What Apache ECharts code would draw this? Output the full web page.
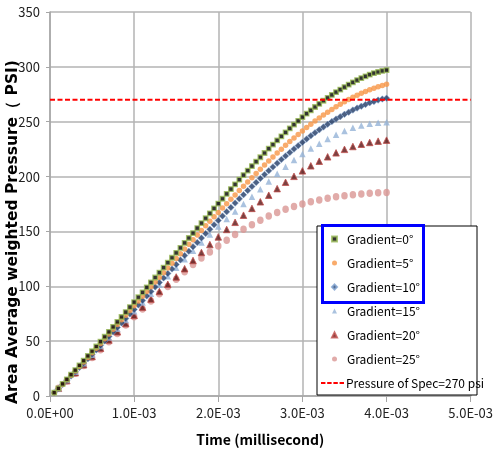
<!DOCTYPE html>
<html>
<head>
<meta charset="utf-8">
<script src="https://cdn.jsdelivr.net/npm/echarts@6/dist/echarts.min.js"></script>
<style>
html,body{margin:0;padding:0;background:#fff;}
#chart{width:496px;height:457px;}
</style>
</head>
<body>
<div id="chart"></div>
<script>
// ---- DATA ----
// time in milliseconds (axis labels shown in seconds, E-03 notation)
const timeFine = [0.05,0.10,0.15,0.20,0.25,0.30,0.35,0.40,0.45,0.50,0.55,0.60,0.65,0.70,0.75,0.80,0.85,0.90,0.95,1.00,
  1.05,1.10,1.15,1.20,1.25,1.30,1.35,1.40,1.45,1.50,1.55,1.60,1.65,1.70,1.75,1.80,1.85,1.90,1.95,2.00,
  2.05,2.10,2.15,2.20,2.25,2.30,2.35,2.40,2.45,2.50,2.55,2.60,2.65,2.70,2.75,2.80,2.85,2.90,2.95,3.00,
  3.05,3.10,3.15,3.20,3.25,3.30,3.35,3.40,3.45,3.50,3.55,3.60,3.65,3.70,3.75,3.80,3.85,3.90,3.95,4.00];
const timeCoarse = [0.1,0.2,0.3,0.4,0.5,0.6,0.7,0.8,0.9,1.0,1.1,1.2,1.3,1.4,1.5,1.6,1.7,1.8,1.9,2.0,
  2.1,2.2,2.3,2.4,2.5,2.6,2.7,2.8,2.9,3.0,3.1,3.2,3.3,3.4,3.5,3.6,3.7,3.8,3.9,4.0];

const grad0 = [3,7,11,15.2,19.4,23.6,27.9,32.2,36.5,40.8,45.1,49.5,54,58.5,63,67.5,72,76.5,81,85.5,
  90,94.5,99,103.5,108,112.5,117,121.5,126,130.5,135,139.5,144,148.5,153,157.5,162,166.5,171,175.4,
  179.8,184.2,188.6,192.9,197.2,201.4,205.5,209.6,213.6,217.6,221.5,225.4,229.2,233,236.7,240.3,243.9,247.4,250.8,254.1,
  257.3,260.4,263.4,266.3,269.1,271.8,274.4,276.9,279.3,281.6,283.8,285.9,287.9,289.7,291.4,292.9,294.2,295.3,296.3,297.1];
const grad5 = [3,6.8,10.8,14.8,18.8,22.8,26.9,31,35.2,39.4,43.6,47.9,52.2,56.5,60.8,65.1,69.4,73.7,78,82.3,
  86.6,90.9,95.2,99.5,103.8,108.1,112.4,116.7,121,125.3,129.6,133.9,138.2,142.5,146.7,150.9,155.1,159.2,163.3,167.3,
  171.3,175.3,179.3,183.3,187.3,191.2,195.1,199,202.9,206.7,210.5,214.2,217.9,221.5,225,228.5,231.9,235.2,238.4,241.6,
  244.7,247.7,250.6,253.4,256.1,258.7,261.2,263.6,265.9,268.1,270.2,272.2,274.1,275.9,277.6,279.1,280.5,281.8,283,284.1];
const grad10 = [3,6.7,10.5,14.3,18.2,22.1,26,30,34,38,42,46.1,50.2,54.3,58.4,62.5,66.6,70.7,74.8,78.9,
  83,87.1,91.2,95.3,99.4,103.5,107.6,111.7,115.8,119.9,124,128,132,136,140,144,148,152,156,160,
  164,168,171.9,175.8,179.7,183.5,187.3,191,194.7,198.3,201.9,205.4,208.8,212.2,215.5,218.8,222,225.1,228.2,231.2,
  234.2,237.1,239.9,242.6,245.2,247.7,250.1,252.4,254.6,256.7,258.7,260.6,262.4,264.1,265.7,267.2,268.5,269.7,270.7,271.5];
const grad15 = [7,14.5,22,29.8,37.6,45.5,53.4,61.3,69.3,77.3,85.3,93.3,101.3,109.2,117,124.7,132.3,139.8,147.2,154.4,
  161.4,168.2,174.9,181.5,188.5,195.5,202.5,209,215,220.5,225.5,230,234.3,238.2,241.6,244.4,246.6,248.1,249,249.5];
const grad20 = [7,14,21.2,28.5,36,43.5,51,58.5,66,73.5,81,88.3,95.3,101.8,108.5,116,123.5,130.8,138,145,
  151.8,158.3,164.8,171,177,183,189,194.8,200.2,205.2,209.8,214,218,221.6,224.8,227.4,229.5,231.1,232.3,233.2];
const grad25 = [7,13.7,20.7,27.8,35,42.2,49.5,57,64.6,72.2,79.3,86.5,93.2,99.7,106.5,113.3,119.8,125.8,131.3,136.8,
  142,147.3,152,156.2,160.2,164,167.3,170.3,172.8,175,177,178.7,180.2,181.5,182.6,183.5,184.2,184.8,185.2,185.4];

const specValue = 270;
const specRange = [0, 5];

const seriesNames = ['Gradient=0°','Gradient=5°','Gradient=10°','Gradient=15°','Gradient=20°','Gradient=25°'];
const specName = 'Pressure of Spec=270 psi';

const xTickValues = [0, 1, 2, 3, 4, 5];
const xTickLabels = ['0.0E+00','1.0E-03','2.0E-03','3.0E-03','4.0E-03','5.0E-03'];
const yTickLabels = ['0','50','100','150','200','250','300','350'];

const xTitle = 'Time (millisecond)';
const yTitle = 'Area Average weighted Pressure\uFF08 PSI)';

// ---- CHART ----
const pair = (t, v) => t.map((x, i) => [x, v[i]]);
const FONT = "'Noto Sans CJK KR','Liberation Sans',sans-serif";

const chart = echarts.init(document.getElementById('chart'), null, {renderer: 'canvas'});

const styles = [
  {symbol: 'rect', size: 4.5, itemStyle: {color: '#000000', borderColor: '#9bbb59', borderWidth: 1.3}},
  {symbol: 'circle', size: 5.5, itemStyle: {color: '#f79646'}},
  {symbol: 'diamond', size: 6.5, itemStyle: {color: '#1f3864', borderColor: '#7fa3d0', borderWidth: 0.6}},
  {symbol: 'triangle', size: 6.5, itemStyle: {color: '#95b3d7'}},
  {symbol: 'triangle', size: 6.5, itemStyle: {color: '#5a1212', borderColor: '#c0504d', borderWidth: 1}},
  {symbol: 'circle', size: [6.5, 7.5], itemStyle: {color: '#d99694'}}
];
const datasets = [pair(timeFine, grad0), pair(timeFine, grad5), pair(timeFine, grad10),
                  pair(timeCoarse, grad15), pair(timeCoarse, grad20), pair(timeCoarse, grad25)];

const series = seriesNames.map((n, i) => ({
  name: n, type: 'scatter', data: datasets[i], symbol: styles[i].symbol,
  symbolSize: styles[i].size, itemStyle: styles[i].itemStyle, z: 2 + (5 - i) * 0.1,
  emphasis: {disabled: true}
}));
series.push({
  name: specName, type: 'line', data: specRange.map(x => [x, specValue]),
  symbol: 'none', lineStyle: {color: '#ff0000', width: 2, type: [5, 2.5]},
  itemStyle: {color: '#ff0000'}, z: 3
});

const option = {
  animation: false,
  backgroundColor: '#ffffff',
  grid: {left: 50, right: 19, top: 12, bottom: 61},
  xAxis: {
    type: 'value', min: 0, max: 5, interval: 1,
    axisLine: {lineStyle: {color: '#a6a6a6', width: 1.5}},
    axisTick: {show: true, length: 6, lineStyle: {color: '#a6a6a6'}},
    splitLine: {show: true, lineStyle: {color: '#b3b3b3', width: 1.5}},
    axisLabel: {margin: 11, fontFamily: FONT, fontSize: 13, color: '#222',
      formatter: v => xTickLabels[xTickValues.indexOf(Math.round(v))] || ''},
    name: xTitle, nameLocation: 'middle', nameGap: 37,
    nameTextStyle: {fontFamily: FONT, fontWeight: 'bold', fontSize: 14, color: '#000'}
  },
  yAxis: {
    type: 'value', min: 0, max: 350, interval: 50,
    axisLine: {show: true, lineStyle: {color: '#a6a6a6', width: 1.5}},
    axisTick: {show: true, length: 4, lineStyle: {color: '#a6a6a6'}},
    splitLine: {show: true, lineStyle: {color: '#b3b3b3', width: 1.5}},
    axisLabel: {margin: 10, fontFamily: FONT, fontSize: 13, color: '#222',
      formatter: v => yTickLabels[Math.round(v / 50)]}
  },
  legend: [
    {
      data: seriesNames, orient: 'vertical', left: 331, top: 231, padding: 0,
      itemWidth: 5, itemHeight: 5, itemGap: 8, z: 10,
      selectedMode: false,
      textStyle: {fontFamily: FONT, fontSize: 12, lineHeight: 16, color: '#000', padding: [0, 0, 0, 5]}
    },
    {
      data: [{name: specName, icon: 'path://M0,0H5V2H0Z M7,0H12V2H7Z M14,0H19V2H14Z M21,0H26V2H21Z'}],
      orient: 'vertical', left: 321, top: 375, padding: 0,
      itemWidth: 23, itemHeight: 2, z: 10, selectedMode: false,
      textStyle: {fontFamily: FONT, fontSize: 12, lineHeight: 16, color: '#000', padding: [0, 0, 0, -3]}
    }
  ],
  graphic: [
    {type: 'rect', z: 5, shape: {x: 317, y: 226, width: 160, height: 169},
     style: {fill: '#ffffff', stroke: '#000000', lineWidth: 1}},
    {type: 'rect', z: 20, shape: {x: 322.5, y: 225.5, width: 101, height: 77},
     style: {fill: 'none', stroke: '#0000ff', lineWidth: 3}},
    {type: 'text', z: 20, x: 13, y: 232, rotation: Math.PI / 2,
     style: {text: yTitle, fill: '#000', font: "bold 15.5px 'DejaVu Sans', sans-serif",
       textAlign: 'center', textVerticalAlign: 'middle'}}
  ],
  series: series
};
chart.setOption(option);
</script>
</body>
</html>
